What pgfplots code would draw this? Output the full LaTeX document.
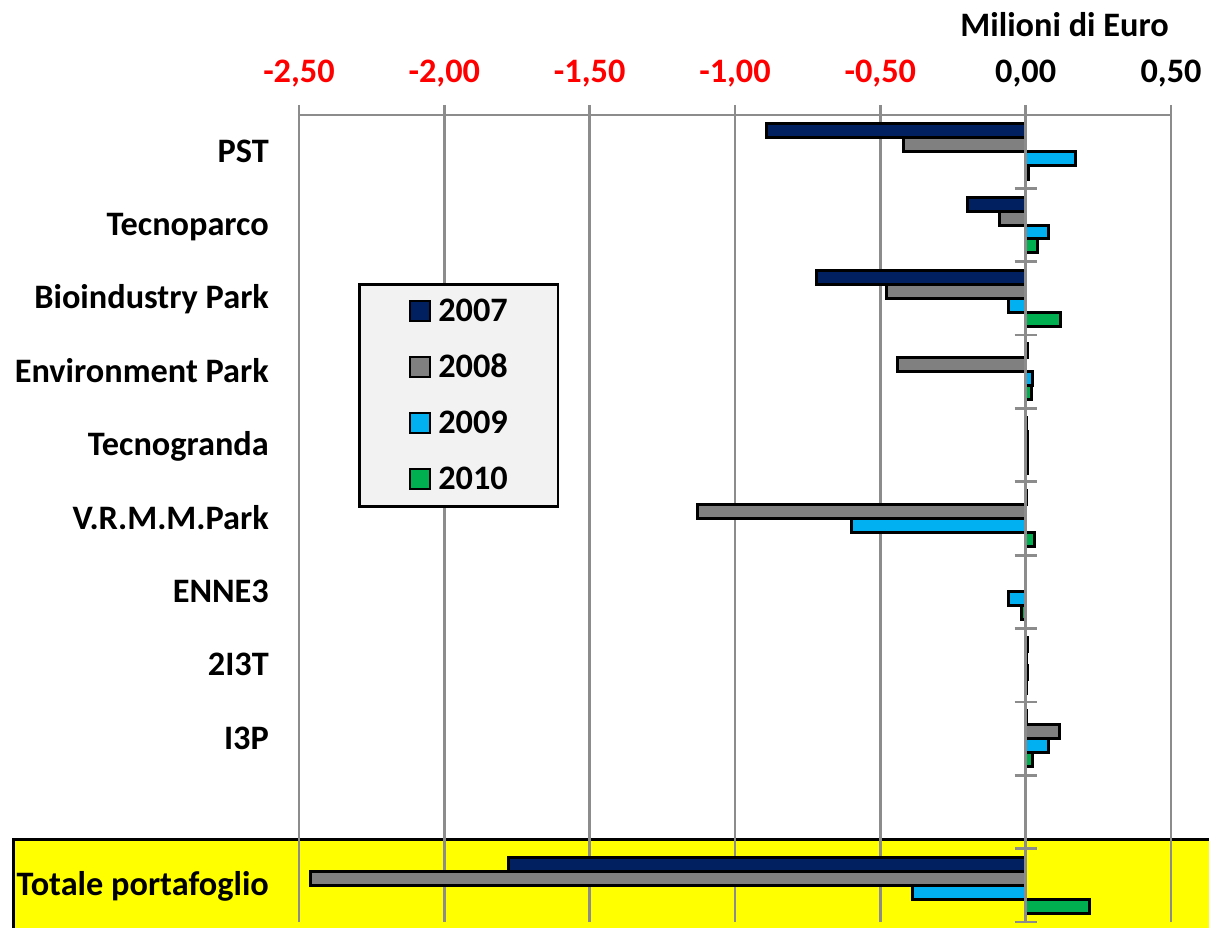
\documentclass[border=0pt]{standalone}
\usepackage{pgfplots}
\pgfplotsset{compat=1.18}
\usepackage{fontspec}
\setmainfont{Carlito}

\definecolor{c2007}{HTML}{002060}
\definecolor{c2008}{HTML}{808080}
\definecolor{c2009}{HTML}{00B0F0}
\definecolor{c2010}{HTML}{00B050}
\definecolor{gridgray}{HTML}{8C8C8C}
\definecolor{legfill}{HTML}{F2F2F2}
\definecolor{band}{HTML}{FFFF00}

\newcommand\lbl{\bfseries\fontsize{34.3}{41}\selectfont}

\begin{document}
\begin{tikzpicture}
\useasboundingbox (0pt,0pt) rectangle (1209pt,928pt);
% fascia gialla del totale
\fill[band] (13pt,-10pt) rectangle (1230pt,88pt);
\draw[black, line width=3pt] (13pt,-10pt) -- (13pt,88pt) -- (1230pt,88pt);

\node[anchor=base, font=\lbl] at (1064.5pt,891pt) {Milioni di Euro};

\begin{axis}[
	at={(299pt,6pt)}, anchor=south west,
	scale only axis, width=872pt, height=807pt,
	xmin=-2.5, xmax=0.5, ymin=-0.5, ymax=10.5,
	y dir=reverse,
	axis x line*=top, axis y line*=left,
	x axis line style={-, draw=gridgray, line width=2.8pt},
	y axis line style={draw=none},
	xmajorgrids, grid style={draw=gridgray, line width=2.8pt},
	tick align=outside, major tick length=10pt,
	xtick style={draw=gridgray, line width=2.8pt},
	ytick style={draw=none},
	xtick={-2.5,-2,-1.5,-1,-0.5,0,0.5},
	xticklabels={{\color{red}-2,50},{\color{red}-2,00},{\color{red}-1,50},{\color{red}-1,00},{\color{red}-0,50},{0,00},{0,50}},
	ytick={0,1,2,3,4,5,6,7,8,10},
	yticklabels={PST,Tecnoparco,Bioindustry Park,Environment Park,Tecnogranda,V.R.M.M.Park,ENNE3,2I3T,I3P,Totale portafoglio},
	ticklabel style={font=\lbl},
	xticklabel style={anchor=base, inner sep=0pt, text height=21pt, text depth=0pt, yshift=22pt},
	yticklabel style={anchor=east, inner sep=0pt, text height=21pt, text depth=0pt, xshift=-20pt},
	xbar, bar width=0.19,
	every axis plot/.append style={draw=black, line width=3pt},
	legend image code/.code={\draw[#1, line width=2pt] (0pt,-10pt) rectangle (20pt,10pt);},
	legend style={at={(0.0677,0.7918)}, anchor=north west,
		fill=legfill, draw=black, line width=2.5pt,
		inner xsep=50pt, inner ysep=16pt, row sep=34pt,
		font=\lbl, nodes={inner sep=0pt, text height=21pt, text depth=0pt},
		/tikz/every odd column/.append style={column sep=7pt}},
	legend cell align=left,
]
\addplot[fill=c2007, bar shift=-0.285] coordinates {
	(-0.89,0) (-0.20,1) (-0.72,2) (0.005,3) (0.003,4) (0.003,5) (0.006,7) (0.003,8) (-1.78,10)
};
\addlegendentry{2007}
\addplot[fill=c2008, bar shift=-0.095] coordinates {
	(-0.42,0) (-0.09,1) (-0.48,2) (-0.44,3) (0.005,4) (-1.13,5) (0.004,7) (0.115,8) (-2.46,10)
};
\addlegendentry{2008}
\addplot[fill=c2009, bar shift=0.095] coordinates {
	(0.17,0) (0.08,1) (-0.06,2) (0.025,3) (0.006,4) (-0.60,5) (-0.06,6) (0.005,7) (0.08,8) (-0.39,10)
};
\addlegendentry{2009}
\addplot[fill=c2010, bar shift=0.285] coordinates {
	(0.01,0) (0.04,1) (0.12,2) (0.02,3) (0.005,4) (0.03,5) (-0.015,6) (0.003,7) (0.025,8) (0.22,10)
};
\addlegendentry{2010}

% asse verticale sullo zero, sopra le barre
\draw[gridgray, line width=2.8pt] (axis cs:0,-0.5) -- (axis cs:0,10.5);
\pgfplotsinvokeforeach{-0.5,0.5,...,10.5}{
	\draw[gridgray, line width=2.8pt] ([xshift=-11pt]axis cs:0,#1) -- ([xshift=11pt]axis cs:0,#1);
}
\end{axis}
\end{tikzpicture}
\end{document}
